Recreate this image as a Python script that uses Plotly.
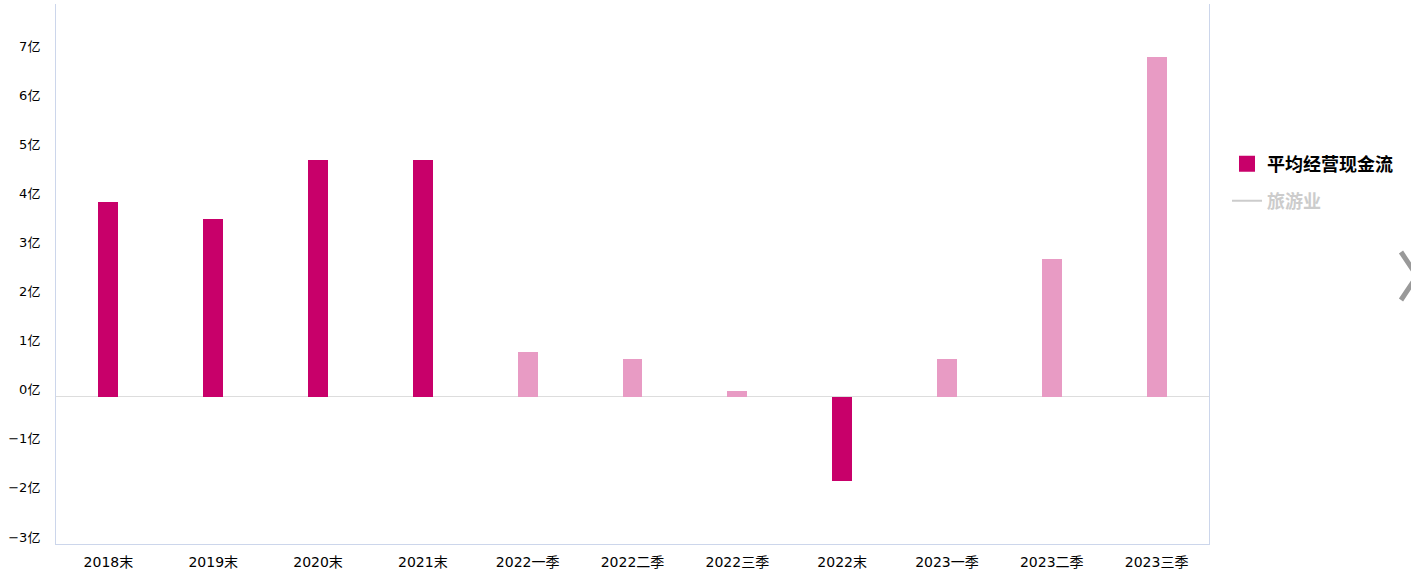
import plotly.graph_objects as go

categories = ["2018末", "2019末", "2020末", "2021末", "2022一季", "2022二季", "2022三季",
              "2022末", "2023一季", "2023二季", "2023三季"]
values = [3.97, 3.63, 4.83, 4.83, 0.92, 0.77, 0.12, -1.71, 0.77, 2.81, 6.92]
bar_colors = ["#C8006A"] * 4 + ["#E89BC4"] * 3 + ["#C8006A"] + ["#E89BC4"] * 3
y_tick_vals = [-3, -2, -1, 0, 1, 2, 3, 4, 5, 6, 7]
y_tick_text = [f"{v}亿".replace("-", "−") for v in y_tick_vals]

FONT = "DejaVu Sans, Noto Sans CJK SC, sans-serif"
CJK = "Noto Sans CJK SC, sans-serif"

fig = go.Figure()
fig.add_trace(go.Bar(
    x=categories, y=values, name="平均经营现金流",
    marker=dict(color=bar_colors, line=dict(width=0)),
    width=0.19, showlegend=False,
))
# legend entries
fig.add_trace(go.Scatter(
    x=[categories[0]], y=[None], name="平均经营现金流", mode="markers",
    marker=dict(symbol="square", size=18, color="#C8006A"), legend="legend",
))
fig.add_trace(go.Scatter(
    x=[categories[0]], y=[None], name="旅游业", mode="lines",
    line=dict(color="#cccccc", width=2), legend="legend2",
))

W, H = 1411, 579
L, R, T, B = 56, 202, 4, 35
pw = W - L - R
ph = H - T - B

def px(x):
    return (x - L) / pw

def py(y):
    return (H - B - y) / ph

fig.update_layout(
    width=W, height=H,
    margin=dict(l=L, r=R, t=T, b=B),
    paper_bgcolor="white", plot_bgcolor="white",
    font=dict(family=FONT, size=13, color="#000000"),
    bargap=0,
    legend=dict(x=px(1227), y=py(164), xanchor="left", yanchor="middle",
                font=dict(size=18, color="#000000", family=CJK, weight="bold"),
                itemwidth=30, bgcolor="rgba(0,0,0,0)"),
    legend2=dict(x=px(1227), y=py(201), xanchor="left", yanchor="middle",
                 font=dict(size=18, color="#cccccc", family=CJK, weight="bold"),
                 itemwidth=30, bgcolor="rgba(0,0,0,0)"),
    showlegend=True,
    xaxis=dict(
        range=[-0.5, len(categories) - 0.5],
        showgrid=False, showline=True, linecolor="#ccd6eb", linewidth=1,
        ticks="", tickfont=dict(size=14), ticklabelstandoff=5,
        zeroline=False,
    ),
    yaxis=dict(
        range=[-3, 8], showgrid=False, showline=True, mirror=True,
        linecolor="#ccd6eb", linewidth=1,
        tickvals=y_tick_vals, ticktext=y_tick_text, ticks="",
        tickfont=dict(size=13), ticklabelshift=-7, ticklabelstandoff=12,
        zeroline=True, zerolinecolor="#dddddd", zerolinewidth=1,
    ),
    shapes=[dict(
        type="path", xref="paper", yref="paper",
        path=f"M {px(1401)},{py(252)} L {px(1417)},{py(276)} L {px(1401)},{py(300)}",
        line=dict(color="#999999", width=5),
    )],
)

fig.write_html("out.html")
